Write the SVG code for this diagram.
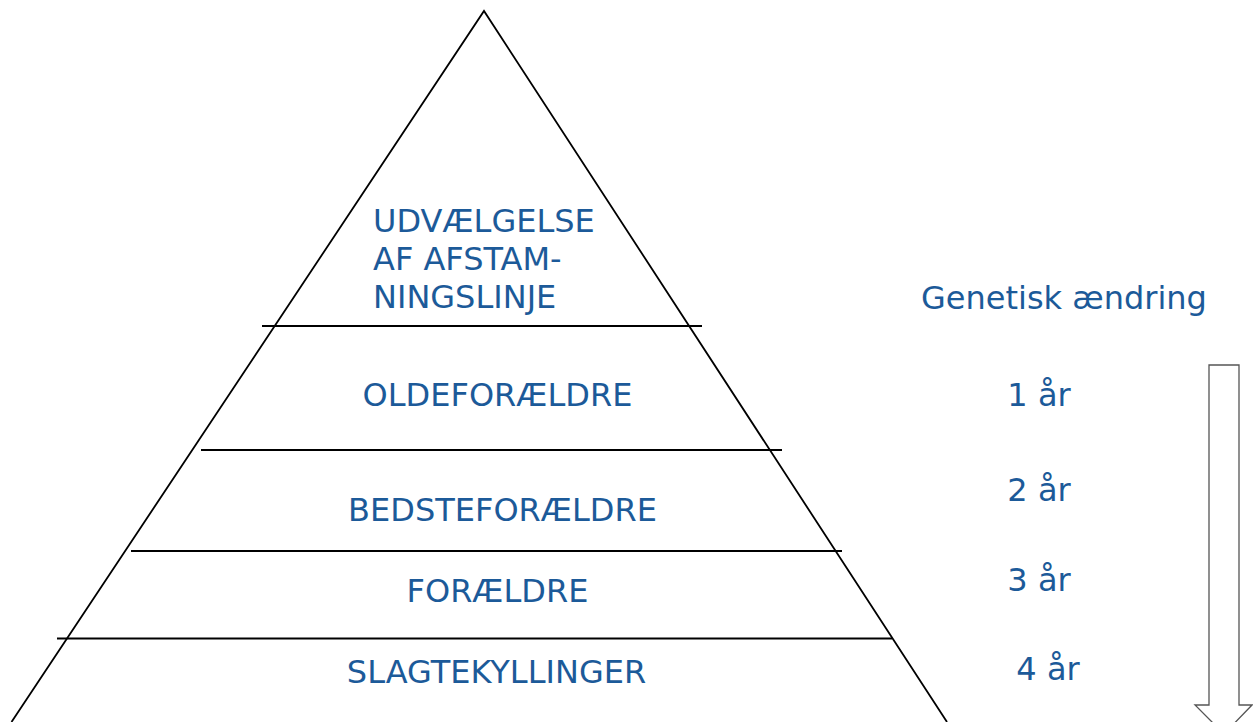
<svg xmlns="http://www.w3.org/2000/svg" width="1253" height="722" viewBox="0 0 1253 722">
<style>
.ln{stroke:#000;stroke-width:1.8;fill:none}
.t{font-family:"DejaVu Sans","Verdana",sans-serif;font-size:32px;fill:#1c5a99}
.c{text-anchor:middle}
</style>
<rect width="1253" height="722" fill="#fff"/>
<g id="pyramid">
<path class="ln" d="M11.5,722 L484,11 L947,722"/>
</g>
<g id="connectors">
<line class="ln" x1="262" y1="326" x2="702" y2="326"/>
<line class="ln" x1="201" y1="450" x2="782" y2="450"/>
<line class="ln" x1="131" y1="551" x2="842" y2="551"/>
<line class="ln" x1="57" y1="638.5" x2="892" y2="638.5"/>
</g>
<g id="arrow">
<path d="M1209,365 H1239 V705 H1252 L1224,734 L1195,705 H1209 Z" fill="#fff" stroke="#555" stroke-width="1.3"/>
</g>
<g id="top-label">
<text class="t" x="373" y="232">UDVÆLGELSE</text>
<text class="t" x="373" y="270">AF AFSTAM-</text>
<text class="t" x="373" y="308">NINGSLINJE</text>
</g>
<g id="oldeforaeldre"><text class="t c" x="497.5" y="406">OLDEFORÆLDRE</text></g>
<g id="bedsteforaeldre"><text class="t c" x="502.5" y="521">BEDSTEFORÆLDRE</text></g>
<g id="foraeldre"><text class="t c" x="497.5" y="602">FORÆLDRE</text></g>
<g id="slagtekyllinger"><text class="t c" x="496.5" y="683">SLAGTEKYLLINGER</text></g>
<g id="genetisk"><text class="t" x="921" y="309">Genetisk ændring</text></g>
<g id="year1"><text class="t c" x="1039" y="406">1 år</text></g>
<g id="year2"><text class="t c" x="1039" y="501">2 år</text></g>
<g id="year3"><text class="t c" x="1039" y="591">3 år</text></g>
<g id="year4"><text class="t c" x="1048" y="680">4 år</text></g>
</svg>
